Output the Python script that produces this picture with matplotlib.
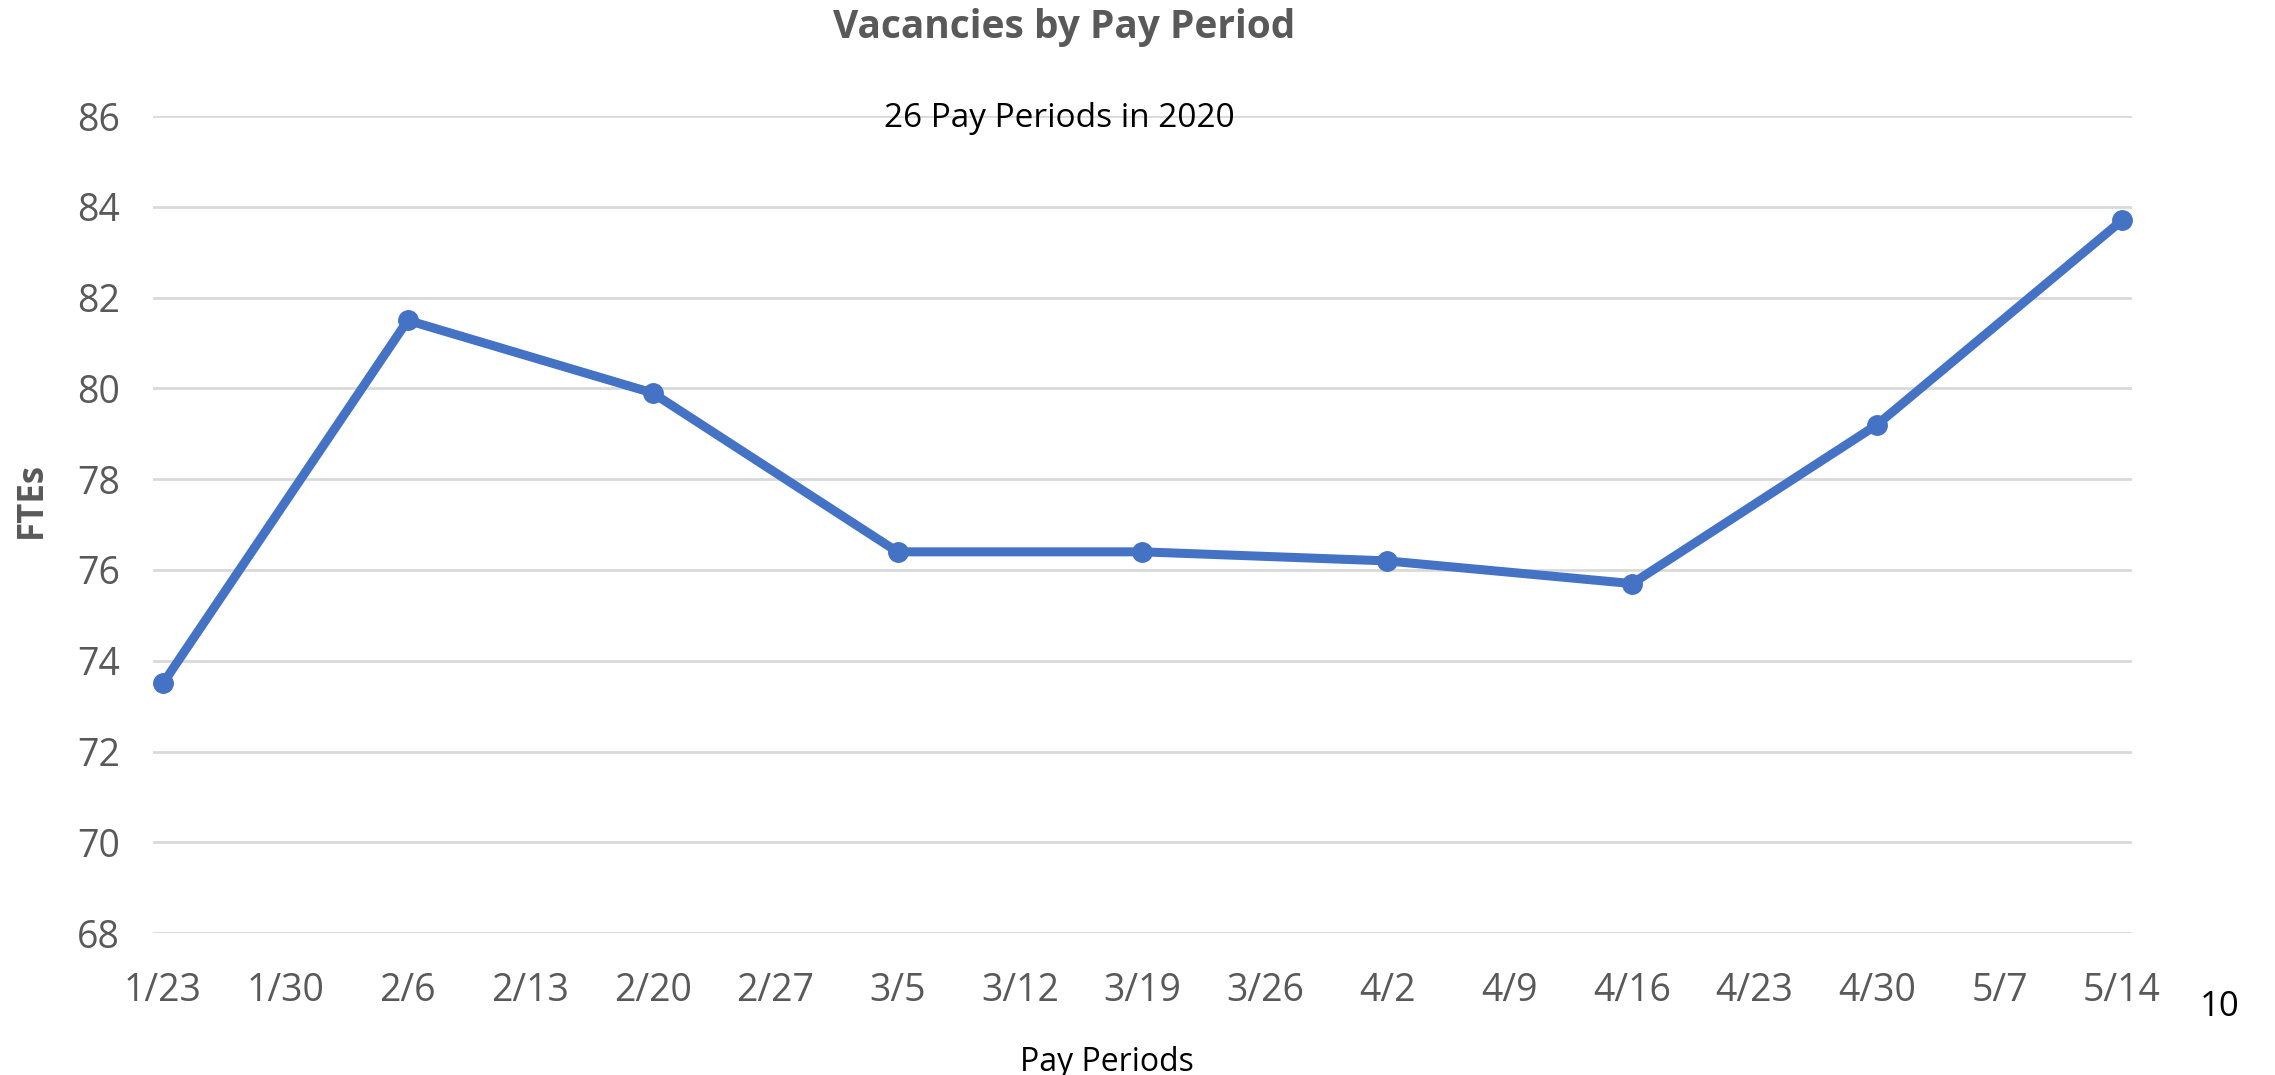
import matplotlib
matplotlib.use("Agg")
import matplotlib.pyplot as plt

plt.rcParams['font.family'] = ['Open Sans', 'DejaVu Sans']

weeks = ["1/23", "1/30", "2/6", "2/13", "2/20", "2/27", "3/5", "3/12", "3/19",
         "3/26", "4/2", "4/9", "4/16", "4/23", "4/30", "5/7", "5/14"]
pay_dates = ["1/23", "2/6", "2/20", "3/5", "3/19", "4/2", "4/16", "4/30", "5/14"]
ftes = [73.5, 81.5, 79.9, 76.4, 76.4, 76.2, 75.7, 79.2, 83.7]
yticks = [68, 70, 72, 74, 76, 78, 80, 82, 84, 86]

grey = "#595959"
blue = "#4472C4"

fig = plt.figure(figsize=(22.75, 10.75), dpi=100)
ax = fig.add_axes([0.0673, 0.132, 0.8697, 0.760])

x = [weeks.index(d) for d in pay_dates]
ax.plot(x, ftes, color=blue, lw=6.5, marker="o", ms=14, zorder=3,
        solid_capstyle="round", solid_joinstyle="round")

ax.set_ylim(68, 86)
ax.set_yticks(yticks)
ax.set_xlim(-0.08, len(weeks) - 1 + 0.08)
ax.set_xticks(range(len(weeks)))
ax.set_xticklabels(weeks)
ax.grid(axis="y", color="#D9D9D9", lw=2)
ax.set_axisbelow(True)
for s in ax.spines.values():
    s.set_visible(False)
ax.tick_params(axis="both", length=0, labelsize=27, labelcolor=grey)
ax.tick_params(axis="x", pad=28)
ax.tick_params(axis="y", pad=24)

fig.text(0.4677, 0.974, "Vacancies by Pay Period", ha="center", va="center",
         fontsize=28, fontweight="bold", color=grey)
fig.text(0.4655, 0.890, "26 Pay Periods in 2020", ha="center", va="center",
         fontsize=24, color="black")
fig.text(0.014, 0.535, "FTEs", ha="center", va="center", rotation=90,
         fontsize=25, fontweight="bold", color=grey)
fig.text(0.4866, 0.012, "Pay Periods", ha="center", va="center",
         fontsize=23, color="black")
fig.text(0.9755, 0.063, "10", ha="center", va="center",
         fontsize=25, color="black")

fig.savefig("out.png", dpi=100)
